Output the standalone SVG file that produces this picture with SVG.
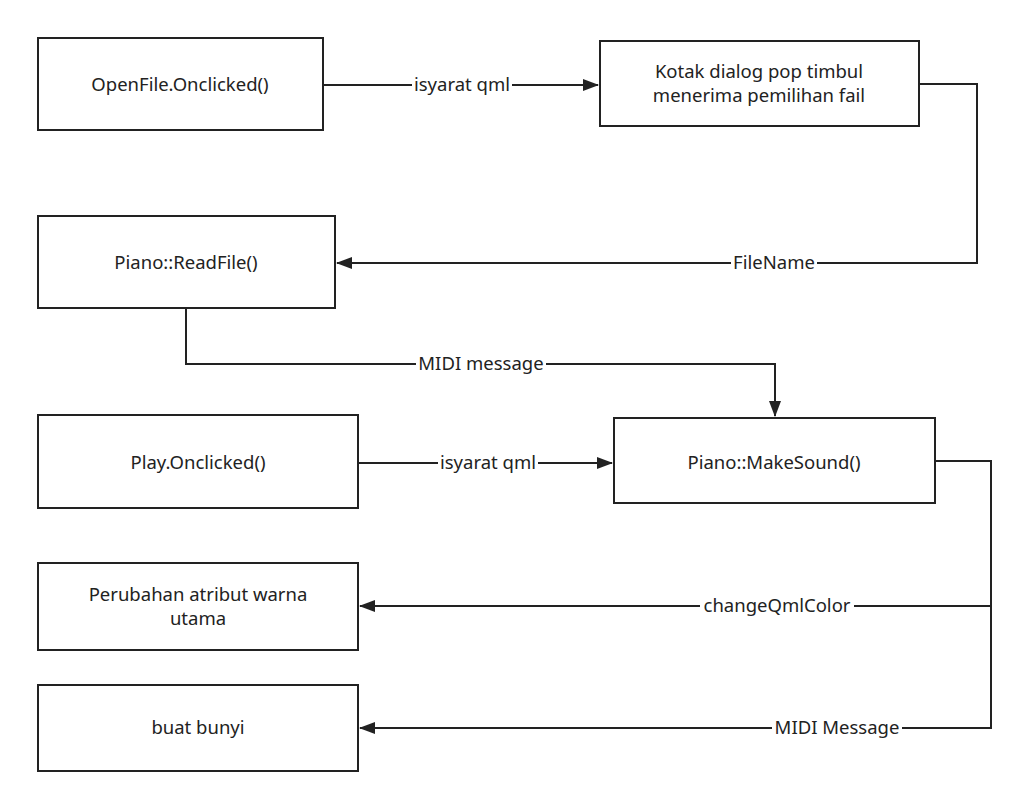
<svg xmlns="http://www.w3.org/2000/svg" width="1028" height="808" viewBox="0 0 1028 808">
<defs>
<marker id="a" markerWidth="16" markerHeight="12" refX="15" refY="6" orient="auto" markerUnits="userSpaceOnUse"><path d="M0,0 L16,6 L0,12 Z" fill="#222"/></marker>
<style>
.n{fill:#fff;stroke:#222;stroke-width:2}
.t{font-family:"Noto Sans","Open Sans",sans-serif;font-size:18.5px;fill:#222;text-anchor:middle}
.c{fill:none;stroke:#222;stroke-width:2}
.l{fill:#fff}
</style>
</defs>
<rect width="1028" height="808" fill="#fff"/>
<g id="connectors">
<path class="c" d="M323,85 H598" marker-end="url(#a)"/>
<path class="c" d="M919,84 H977 V263 H337" marker-end="url(#a)"/>
<path class="c" d="M186,308 V364 H775 V416" marker-end="url(#a)"/>
<path class="c" d="M358,463 H612" marker-end="url(#a)"/>
<path class="c" d="M935,461 H991 V728 H360" marker-end="url(#a)"/>
<path class="c" d="M991,606 H360" marker-end="url(#a)"/>
<rect class="l" x="412" y="72" width="100" height="26"/><text class="t" x="462" y="91">isyarat qml</text>
<rect class="l" x="731" y="250" width="86" height="26"/><text class="t" x="774" y="269">FileName</text>
<rect class="l" x="416" y="351" width="130" height="26"/><text class="t" x="481" y="370">MIDI message</text>
<rect class="l" x="438" y="450" width="100" height="26"/><text class="t" x="488" y="469">isyarat qml</text>
<rect class="l" x="700" y="593" width="154" height="26"/><text class="t" x="777" y="612">changeQmlColor</text>
<rect class="l" x="772" y="715" width="130" height="26"/><text class="t" x="837" y="734">MIDI Message</text>
</g>
<g id="openfile"><rect class="n" x="38" y="38" width="285" height="92"/><text class="t" x="180" y="91">OpenFile.Onclicked()</text></g>
<g id="kotak"><rect class="n" x="600" y="41" width="319" height="85"/><text class="t" x="759" y="78">Kotak dialog pop timbul</text><text class="t" x="759" y="102">menerima pemilihan fail</text></g>
<g id="readfile"><rect class="n" x="38" y="216" width="297" height="92"/><text class="t" x="186" y="269">Piano::ReadFile()</text></g>
<g id="play"><rect class="n" x="38" y="415" width="320" height="93"/><text class="t" x="198" y="469">Play.Onclicked()</text></g>
<g id="makesound"><rect class="n" x="614" y="418" width="321" height="85"/><text class="t" x="774" y="469">Piano::MakeSound()</text></g>
<g id="perubahan"><rect class="n" x="38" y="563" width="320" height="87"/><text class="t" x="198" y="601">Perubahan atribut warna</text><text class="t" x="198" y="625">utama</text></g>
<g id="bunyi"><rect class="n" x="38" y="685" width="320" height="86"/><text class="t" x="198" y="734">buat bunyi</text></g>
</svg>
